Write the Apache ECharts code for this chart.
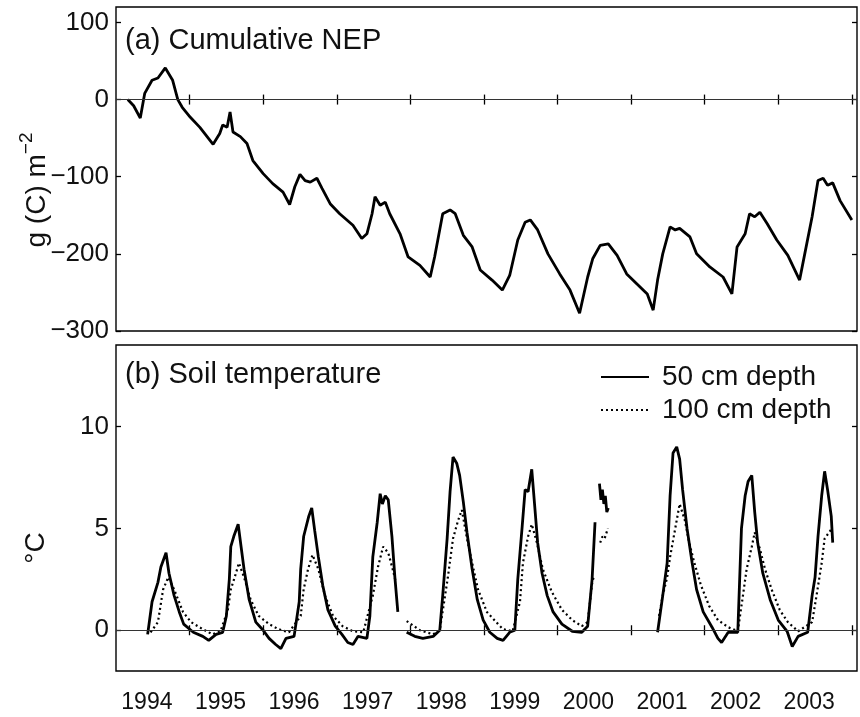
<!DOCTYPE html>
<html>
<head>
<meta charset="utf-8">
<script src="https://cdn.jsdelivr.net/npm/echarts@6/dist/echarts.min.js"></script>
<style>
  html, body { margin: 0; padding: 0; background: #fff; }
  #chart { width: 860px; height: 717px; }
</style>
</head>
<body>
<div id="chart"></div>
<script>
// Cumulative net ecosystem production, g(C) m^-2, by decimal year
const nepYears = [
  1994.16, 1994.24, 1994.33, 1994.39, 1994.49, 1994.57, 1994.67, 1994.77, 1994.84, 1994.90,
  1995.01, 1995.14, 1995.32, 1995.41, 1995.45, 1995.51, 1995.55, 1995.59, 1995.69, 1995.78,
  1995.86, 1996.00, 1996.13, 1996.27, 1996.36, 1996.43, 1996.50, 1996.57, 1996.64, 1996.73,
  1996.80, 1996.91, 1997.04, 1997.22, 1997.34, 1997.41, 1997.48, 1997.52, 1997.59, 1997.66,
  1997.72, 1997.86, 1997.97, 1998.13, 1998.27, 1998.33, 1998.44, 1998.54, 1998.61, 1998.72,
  1998.84, 1998.95, 1999.11, 1999.25, 1999.35, 1999.46, 1999.56, 1999.63, 1999.73, 1999.87,
  2000.03, 2000.17, 2000.30, 2000.41, 2000.48, 2000.58, 2000.69, 2000.81, 2000.94, 2001.08,
  2001.22, 2001.30, 2001.36, 2001.43, 2001.53, 2001.60, 2001.66, 2001.80, 2001.89, 2002.07,
  2002.25, 2002.37, 2002.44, 2002.55, 2002.61, 2002.68, 2002.75, 2002.85, 2002.98, 2003.13,
  2003.29, 2003.36, 2003.46, 2003.54, 2003.61, 2003.67, 2003.74, 2003.84, 2004.00
];
const nepValues = [
  0, -8, -24, 8, 25, 28, 41, 25, 0, -10,
  -23, -36, -58, -44, -33, -36, -16, -42, -48, -57,
  -79, -96, -109, -120, -136, -113, -97, -105, -107, -102,
  -115, -135, -148, -163, -180, -174, -148, -126, -137, -133,
  -148, -174, -204, -215, -230, -204, -148, -143, -148, -176,
  -191, -221, -234, -247, -228, -182, -159, -156, -169, -200,
  -226, -247, -277, -230, -206, -189, -187, -202, -226, -239,
  -252, -273, -234, -200, -165, -169, -167, -178, -200, -217,
  -230, -252, -191, -174, -148, -152, -146, -161, -182, -202,
  -234, -200, -152, -105, -102, -111, -108, -131, -156
];

// Soil temperature at 50 cm depth (°C); null marks a gap in the record
const soilYears50 = [
  1994.43, 1994.49, 1994.57, 1994.61, 1994.68, 1994.72, 1994.79, 1994.86, 1994.92, 1995.05,
  1995.18, 1995.26, 1995.36, 1995.45, 1995.50, 1995.54, 1995.56, 1995.60, 1995.66, 1995.70,
  1995.74, 1995.81, 1995.90, 1996.00, 1996.08, 1996.17, 1996.24, 1996.31, 1996.42, 1996.49,
  1996.51, 1996.55, 1996.62, 1996.66, 1996.70, 1996.75, 1996.81, 1996.88, 1996.98, 1997.07,
  1997.15, 1997.22, 1997.29, 1997.41, 1997.45, 1997.49, 1997.55, 1997.59, 1997.62, 1997.66,
  1997.70, 1997.75, 1997.79, 1997.83, 1997.89, 1997.95, 1998.06, 1998.17, 1998.31, 1998.40,
  1998.44, 1998.50, 1998.54, 1998.58, 1998.63, 1998.67, 1998.72, 1998.77, 1998.84, 1998.91,
  1998.99, 1999.08, 1999.18, 1999.26, 1999.35, 1999.42, 1999.46, 1999.52, 1999.56, 1999.60,
  1999.65, 1999.69, 1999.73, 1999.79, 1999.86, 1999.94, 2000.06, 2000.20, 2000.33, 2000.41,
  2000.47, 2000.51, 2000.54, 2000.57, 2000.59, 2000.61, 2000.63, 2000.65, 2000.67, 2000.69,
  2000.75, 2001.36, 2001.43, 2001.49, 2001.53, 2001.57, 2001.62, 2001.66, 2001.70, 2001.76,
  2001.83, 2001.89, 2001.98, 2002.10, 2002.18, 2002.23, 2002.32, 2002.45, 2002.50, 2002.55,
  2002.59, 2002.64, 2002.68, 2002.72, 2002.79, 2002.89, 2003.00, 2003.12, 2003.19, 2003.27,
  2003.40, 2003.46, 2003.50, 2003.54, 2003.59, 2003.63, 2003.67, 2003.72, 2003.74
];
const soil50 = [
  -0.2, 1.4, 2.35, 3.1, 3.8, 2.8, 1.7, 0.9, 0.3, -0.1,
  -0.3, -0.5, -0.2, -0.1, 0.7, 2.5, 4.1, 4.6, 5.2, 4.1,
  3.0, 1.5, 0.4, 0.0, -0.4, -0.7, -0.9, -0.4, -0.3, 1.4,
  3.0, 4.6, 5.6, 6.0, 4.9, 3.6, 2.2, 1.0, 0.2, -0.2,
  -0.6, -0.7, -0.3, -0.4, 0.7, 3.6, 5.3, 6.7, 6.2, 6.6,
  6.4, 4.6, 2.6, 0.9, null, -0.1, -0.3, -0.4, -0.3, 0.0,
  1.7, 4.5, 6.8, 8.5, 8.2, 7.6, 6.3, 4.8, 3.0, 1.5,
  0.5, -0.1, -0.4, -0.5, -0.1, 0.0, 2.5, 5.1, 6.9, 6.8,
  7.9, 6.1, 4.3, 2.8, 1.7, 0.9, 0.3, -0.05, -0.1, 0.2,
  2.5, 5.3, null, 7.2, 6.4, 6.9, 6.2, 6.6, 5.8, 6.0,
  null, -0.1, 1.7, 3.3, 6.6, 8.7, 9.0, 8.4, 6.9, 5.0,
  3.3, 2.0, 0.9, 0.15, -0.4, -0.6, -0.1, -0.1, 5.0, 6.6,
  7.3, 7.6, 5.8, 4.3, 2.8, 1.5, 0.5, -0.05, -0.8, -0.3,
  -0.1, 1.7, 2.6, 4.6, 6.6, 7.8, 6.9, 5.6, 4.3
];

// Soil temperature at 100 cm depth (°C)
const soilYears100 = [
  1994.47, 1994.57, 1994.64, 1994.71, 1994.79, 1994.91, 1995.02, 1995.18, 1995.31, 1995.42,
  1995.52, 1995.56, 1995.63, 1995.67, 1995.74, 1995.83, 1995.94, 1996.08, 1996.21, 1996.35,
  1996.51, 1996.55, 1996.61, 1996.67, 1996.75, 1996.84, 1996.95, 1997.08, 1997.22, 1997.36,
  1997.49, 1997.56, 1997.63, 1997.70, 1997.76, 1997.80, 1997.86, 1997.95, 1998.13, 1998.31,
  1998.40, 1998.51, 1998.58, 1998.65, 1998.70, 1998.77, 1998.84, 1998.92, 1999.04, 1999.18,
  1999.26, 1999.39, 1999.49, 1999.53, 1999.60, 1999.65, 1999.72, 1999.80, 1999.92, 2000.06,
  2000.20, 2000.33, 2000.41, 2000.47, 2000.49, 2000.52, 2000.58, 2000.61, 2000.64, 2000.685,
  2000.75, 2001.38, 2001.43, 2001.49, 2001.53, 2001.60, 2001.66, 2001.73, 2001.79, 2001.86,
  2001.95, 2002.06, 2002.18, 2002.32, 2002.45, 2002.52, 2002.57, 2002.64, 2002.68, 2002.75,
  2002.82, 2002.91, 2003.02, 2003.13, 2003.27, 2003.46, 2003.52, 2003.59, 2003.63, 2003.73
];
const soil100 = [
  -0.1, 0.4, 2.0, 2.6, 2.0, 0.9, 0.4, 0.05, -0.2, -0.05,
  1.0, 2.0, 2.8, 3.3, 2.6, 1.5, 0.7, 0.3, 0.05, -0.1,
  0.7, 2.0, 3.0, 3.7, 3.0, 1.7, 0.7, 0.2, -0.05, -0.1,
  1.7, 3.1, 4.1, 3.8, 3.0, 2.4, null, 0.45, 0.0, -0.2,
  0.0, 2.6, 4.5, 5.4, 5.9, 4.5, 3.3, 2.0, 0.9, 0.35,
  0.05, -0.05, 1.4, 3.3, 4.6, 5.2, 4.3, 3.0, 1.9, 1.0,
  0.5, 0.2, 0.4, 2.3, 2.6, null, 4.3, 4.6, 4.5, 5.0,
  null, 0.7, 1.7, 2.6, 3.6, 5.0, 6.2, 5.4, 4.3, 3.3,
  2.2, 1.2, 0.5, 0.15, -0.05, 1.7, 3.0, 4.1, 4.8, 4.0,
  3.0, 2.0, 1.0, 0.4, -0.05, 0.4, 1.7, 3.3, 4.5, 5.0
];

// Axis ticks and labels
const yearTicks = [1995, 1996, 1997, 1998, 1999, 2000, 2001, 2002, 2003, 2004];
const yearLabels = ['1994', '1995', '1996', '1997', '1998', '1999', '2000', '2001', '2002', '2003'];
const nepTicks = [-300, -200, -100, 0, 100];
const soilTicks = [0, 5, 10];

const FONT = '"Liberation Sans", Arial, Helvetica, sans-serif';
const INK = '#111';

function pairs(xs, ys) {
  return xs.map((x, i) => [x, ys[i] === null ? '-' : ys[i]]);
}
function minusFmt(v) {
  return v < 0 ? '\u2212' + Math.abs(v) : String(v);
}

// year labels sit in the middle of each year, between the ticks
const yearLabelPos = yearLabels.map(s => Number(s) + 0.42);

const xBase = {
  type: 'value', min: 1994, max: 2004.07,
  axisLine: { show: false },
  splitLine: { show: false },
  axisTick: { show: true, inside: true, length: 5, customValues: yearTicks,
              lineStyle: { color: '#000', width: 1.3 } },
  axisLabel: { show: false }
};
function yBase(grid, pos, min, max, ticks, labels) {
  return {
    type: 'value', gridIndex: grid, position: pos, min: min, max: max,
    axisLine: { show: false },
    splitLine: { show: false },
    axisTick: { show: true, inside: true, length: 5, customValues: ticks,
                lineStyle: { color: '#000', width: 1.3 } },
    axisLabel: labels ? { show: true, customValues: ticks, formatter: minusFmt,
                          fontFamily: FONT, fontSize: 26, color: INK, margin: 7 }
                      : { show: false }
  };
}

const zeroLine = {
  silent: true, symbol: ['none', 'none'], animation: false,
  label: { show: false },
  lineStyle: { color: '#333', width: 1.2, type: 'solid' },
  emphasis: { disabled: true },
  data: [{ yAxis: 0 }]
};

const chart = echarts.init(document.getElementById('chart'), null, { renderer: 'canvas' });
chart.setOption({
  animation: false,
  backgroundColor: '#fff',
  grid: [
    { left: 116, right: 3, top: 7, height: 324, show: true, borderColor: '#000', borderWidth: 1.4, backgroundColor: 'transparent' },
    { left: 116, right: 3, top: 345, height: 326, show: true, borderColor: '#000', borderWidth: 1.4, backgroundColor: 'transparent' }
  ],
  xAxis: [
    Object.assign({}, xBase, { gridIndex: 0, position: 'bottom' }),
    Object.assign({}, xBase, { gridIndex: 0, position: 'top' }),
    Object.assign({}, xBase, { gridIndex: 1, position: 'bottom',
      axisLabel: { show: true, customValues: yearLabelPos,
                   formatter: v => String(Math.floor(v)),
                   fontFamily: FONT, fontSize: 23, color: INK, margin: 20 } }),
    Object.assign({}, xBase, { gridIndex: 1, position: 'top' })
  ],
  yAxis: [
    yBase(0, 'left', -300, 120, nepTicks, true),
    yBase(0, 'right', -300, 120, nepTicks, false),
    yBase(1, 'left', -2, 14, soilTicks, true),
    yBase(1, 'right', -2, 14, soilTicks, false)
  ],
  legend: {
    orient: 'vertical', left: 595, top: 358,
    itemWidth: 48, itemHeight: 14, itemGap: 5,
    selectedMode: false,
    // only the line sample is shown, no marker dot
    itemStyle: { opacity: 0 },
    textStyle: { fontFamily: FONT, fontSize: 28, color: INK, padding: [0, 0, 0, 8] },
    data: ['50 cm depth', '100 cm depth']
  },
  series: [
    {
      name: 'Cumulative NEP', type: 'line', xAxisIndex: 0, yAxisIndex: 0,
      data: pairs(nepYears, nepValues), showSymbol: false, symbol: 'none',
      lineStyle: { color: '#000', width: 2.8 }, z: 3, markLine: zeroLine
    },
    {
      name: '50 cm depth', type: 'line', xAxisIndex: 2, yAxisIndex: 2,
      data: pairs(soilYears50, soil50), showSymbol: false, symbol: 'none',
      connectNulls: false, color: '#000',
      lineStyle: { color: '#000', width: 2.8 }, z: 3, markLine: zeroLine
    },
    {
      name: '100 cm depth', type: 'line', xAxisIndex: 2, yAxisIndex: 2,
      data: pairs(soilYears100, soil100), showSymbol: false, symbol: 'none',
      connectNulls: false, color: '#000',
      lineStyle: { color: '#000', width: 2.2, type: [2, 3] }, z: 4
    }
  ],
  graphic: [
    { type: 'text', left: 125, top: 26, silent: true,
      style: { text: '(a) Cumulative NEP', font: '29px ' + FONT, fill: INK } },
    { type: 'text', left: 125, top: 360, silent: true,
      style: { text: '(b) Soil temperature', font: '29px ' + FONT, fill: INK } },
    { type: 'text', x: 34, y: 190, rotation: Math.PI / 2, silent: true,
      style: {
        text: '{a|g (C) m}{s|\u22122}', align: 'center', verticalAlign: 'middle',
        rich: {
          a: { fontFamily: FONT, fontSize: 28, fill: INK, lineHeight: 34, verticalAlign: 'bottom' },
          s: { fontFamily: FONT, fontSize: 19, fill: INK, lineHeight: 34, verticalAlign: 'top' }
        }
      } },
    { type: 'text', x: 36, y: 548, rotation: Math.PI / 2, silent: true,
      style: { text: '\u00B0C', font: '28px ' + FONT, fill: INK, align: 'center', verticalAlign: 'middle' } }
  ]
});
</script>
</body>
</html>
